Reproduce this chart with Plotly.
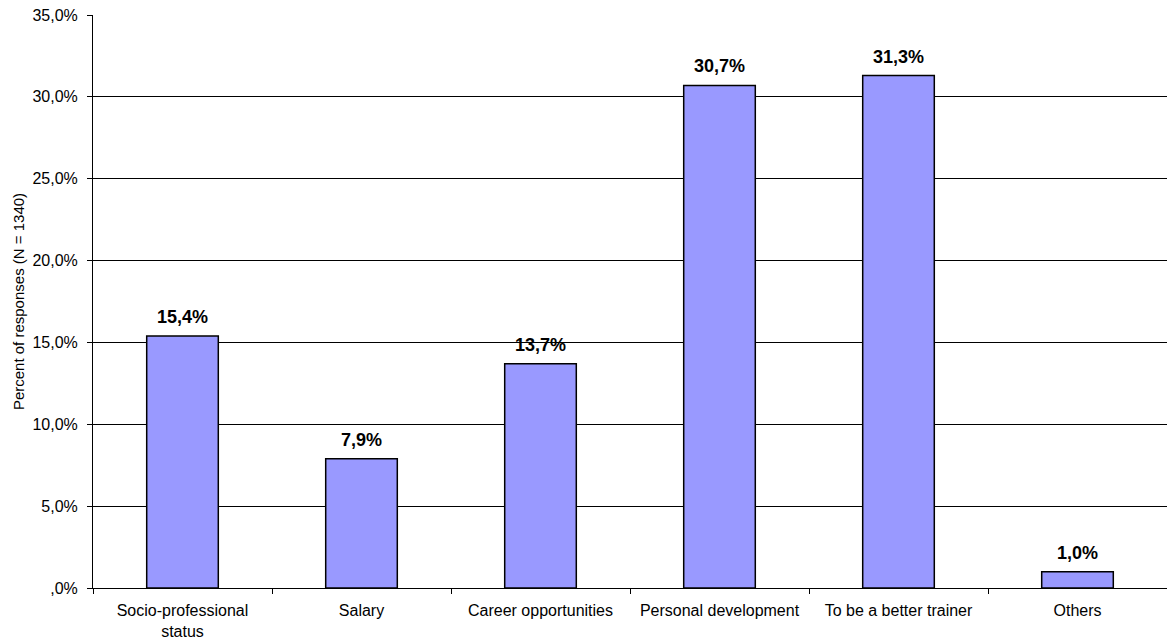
import plotly.graph_objects as go

categories = ["Socio-professional<br>status", "Salary", "Career opportunities",
              "Personal development", "To be a better trainer", "Others"]
values = [15.4, 7.9, 13.7, 30.7, 31.3, 1.0]
labels = ["15,4%", "7,9%", "13,7%", "30,7%", "31,3%", "1,0%"]
ytick_vals = [0, 5, 10, 15, 20, 25, 30, 35]
ytick_text = [",0%", "5,0%", "10,0%", "15,0%", "20,0%", "25,0%", "30,0%", "35,0%"]

fig = go.Figure(go.Bar(
    x=categories, y=values, width=0.4,
    marker=dict(color="#9999FF", line=dict(color="black", width=1.5)),
    hoverinfo="x+y",
))

for c, v, t in zip(categories, values, labels):
    fig.add_annotation(
        x=c, y=v, text=t, showarrow=False, yanchor="bottom", yshift=7,
        font=dict(family="Liberation Sans, Arial", size=18, color="black", weight="bold"),
    )

fig.update_layout(
    width=1167, height=640,
    margin=dict(l=93, r=0, t=15, b=52),
    plot_bgcolor="white", paper_bgcolor="white",
    font=dict(family="Liberation Sans, Arial", size=16, color="black"),
    showlegend=False, bargap=0.6,
)
fig.update_xaxes(
    type="category", showline=True, linecolor="black", linewidth=1,
    ticks="outside", tickson="boundaries", ticklen=5, tickcolor="black",
    showgrid=False, tickfont=dict(size=16), ticklabelstandoff=8,
)
fig.update_yaxes(
    range=[0, 35], tickvals=ytick_vals, ticktext=ytick_text,
    showline=True, linecolor="black", linewidth=1,
    ticks="outside", ticklen=5, tickcolor="black",
    showgrid=True, gridcolor="black", gridwidth=1, zeroline=False,
    title=dict(text="Percent of responses (N = 1340)", font=dict(size=15), standoff=4),
    tickfont=dict(size=16), ticklabelstandoff=6,
)

fig.write_html("out.html")
